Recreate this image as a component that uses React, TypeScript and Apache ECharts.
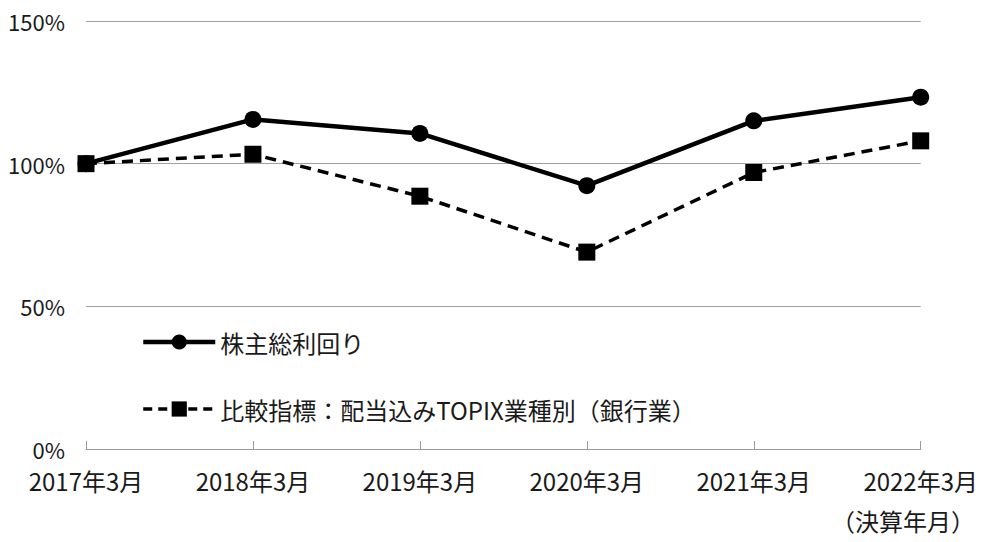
import React, { useEffect, useRef } from "react";
import * as echarts from "echarts";

const categories = ["2017年3月", "2018年3月", "2019年3月", "2020年3月", "2021年3月", "2022年3月"];
const tsrValues = [100, 115.5, 110.6, 92.3, 115, 123.3];
const topixValues = [100, 103.3, 88.6, 69, 96.9, 108];
const seriesNames = ["株主総利回り", "比較指標：配当込みTOPIX業種別（銀行業）"];
const yTicks = [0, 50, 100, 150];
const axisNote = "（決算年月）";

const FONT = '"Noto Sans CJK JP", "Noto Sans", sans-serif';
const FS = 24;

export default function App() {
  const ref = useRef<HTMLDivElement>(null);
  useEffect(() => {
    if (!ref.current) return;
    const chart = echarts.init(ref.current, undefined, { renderer: "svg" });
    chart.setOption({
      animation: false,
      backgroundColor: "#ffffff",
      textStyle: { fontFamily: FONT, color: "#1a1a1a" },
      grid: { left: 86, right: 58, top: 21, bottom: 93, containLabel: false },
      legend: {
        data: [
          { name: seriesNames[0], lineStyle: { width: 4.5, type: "solid", color: "#000" } },
          { name: seriesNames[1], lineStyle: { width: 3.5, type: [9, 6], color: "#000" } },
        ],
        orient: "vertical",
        left: 141,
        top: 330,
        padding: 0,
        itemWidth: 72,
        itemHeight: 19,
        itemGap: 43,
        textStyle: { fontFamily: FONT, fontSize: FS, color: "#1a1a1a", lineHeight: 24 },
      },
      xAxis: {
        type: "category",
        data: categories,
        boundaryGap: false,
        axisLine: { show: true, lineStyle: { color: "#9a9a9a", width: 1 } },
        axisTick: { show: true, inside: true, length: 8, alignWithLabel: true, lineStyle: { color: "#9a9a9a" } },
        axisLabel: { fontFamily: FONT, fontSize: FS, color: "#1a1a1a", margin: 19 },
        splitLine: { show: false },
      },
      yAxis: {
        type: "value",
        min: yTicks[0],
        max: yTicks[yTicks.length - 1],
        interval: 50,
        axisLine: { show: false },
        axisTick: { show: false },
        axisLabel: { fontFamily: FONT, fontSize: 22, color: "#1a1a1a", margin: 21, formatter: "{value}%" },
        splitLine: { show: true, lineStyle: { color: "#a0a0a0", width: 1 } },
      },
      graphic: [
        {
          type: "text",
          right: 6,
          top: 508,
          style: { text: axisNote, fontFamily: FONT, fontSize: FS, fill: "#1a1a1a" },
        },
      ],
      series: [
        {
          name: seriesNames[0],
          type: "line",
          data: tsrValues,
          symbol: "circle",
          symbolSize: 17,
          lineStyle: { color: "#000", width: 4.5, type: "solid" },
          itemStyle: { color: "#000" },
          z: 2,
        },
        {
          name: seriesNames[1],
          type: "line",
          data: topixValues,
          symbol: "rect",
          symbolSize: 17,
          lineStyle: { color: "#000", width: 3.5, type: [11, 7] },
          itemStyle: { color: "#000" },
          z: 3,
        },
      ],
    });
    return () => chart.dispose();
  }, []);
  return <div ref={ref} style={{ position: "fixed", left: 0, top: 0, width: 981, height: 542 }} />;
}
